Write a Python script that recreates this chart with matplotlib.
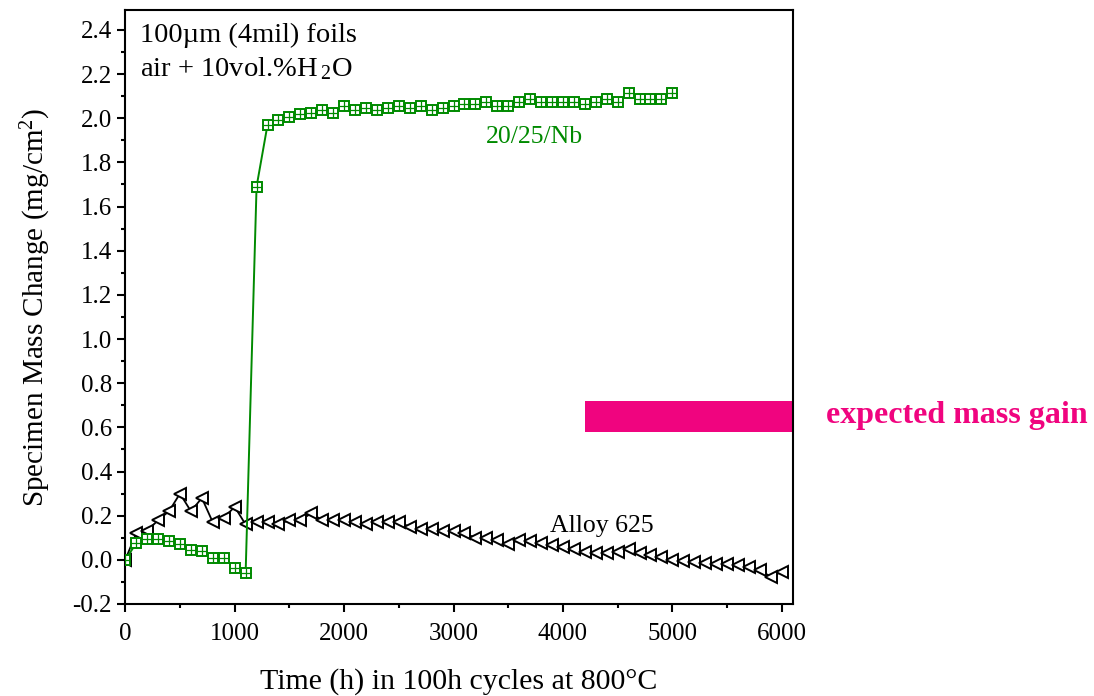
import numpy as np
import matplotlib
matplotlib.use('Agg')
import matplotlib.pyplot as plt
from matplotlib.ticker import MultipleLocator

plt.rcParams['font.family'] = ['Liberation Serif', 'DejaVu Serif']
plt.rcParams['mathtext.fontset'] = 'custom'
plt.rcParams['mathtext.rm'] = 'Liberation Serif'
plt.rcParams['mathtext.it'] = 'Liberation Serif:italic'

# Alloy 625, every 100 h from 0 to 6000 h
alloy_time = list(range(0, 6001, 100))
alloy_mass = [0.00, 0.12, 0.13, 0.18, 0.22, 0.30, 0.22, 0.28, 0.17, 0.19,
              0.24, 0.16, 0.17, 0.17, 0.16, 0.18, 0.18, 0.21, 0.18, 0.18,
              0.18, 0.17, 0.16, 0.17, 0.17, 0.17, 0.15, 0.14, 0.14, 0.13,
              0.13, 0.12, 0.10, 0.10, 0.09, 0.07, 0.09, 0.085, 0.075, 0.065,
              0.057, 0.048, 0.037, 0.030, 0.032, 0.037, 0.048, 0.030, 0.022, 0.011,
              0.000, -0.005, -0.008, -0.015, -0.019, -0.020, -0.024, -0.031, -0.046, -0.077,
              -0.054]

# 20/25/Nb, every 100 h from 0 to 5000 h
nb_time = list(range(0, 5001, 100))
nb_mass = [0.00, 0.075, 0.095, 0.095, 0.085, 0.07, 0.045, 0.04, 0.01, 0.01,
           -0.035, -0.06, 1.69, 1.97, 1.99, 2.005, 2.02, 2.025, 2.035, 2.025,
           2.055, 2.035, 2.045, 2.035, 2.045, 2.055, 2.045, 2.055, 2.035, 2.045,
           2.055, 2.065, 2.065, 2.072, 2.055, 2.055, 2.074, 2.085, 2.074, 2.074,
           2.074, 2.074, 2.064, 2.074, 2.085, 2.074, 2.115, 2.085, 2.085, 2.085,
           2.112]

# expected mass gain band
band_start = 4200
band_low, band_high = 0.58, 0.72

green = '#008a00'
magenta = '#f0047f'

fig = plt.figure(figsize=(10.94, 6.96), dpi=100)
ax = fig.add_axes([0.1145, 0.1322, 0.6101, 0.8534])

ax.plot(alloy_time, alloy_mass, color='black', lw=1.3, marker='<', ms=8.5,
        mfc='white', mec='black', mew=1.4, zorder=3)
ax.plot(nb_time, nb_mass, color=green, lw=1.4, marker='s', ms=6.5,
        mfc='white', mec=green, mew=1.4, zorder=4)
ax.plot(nb_time, nb_mass, ls='none', marker='+', ms=6.5, mec=green, mew=0.9, zorder=5)

ax.fill_between([band_start, 6100], band_low, band_high, color=magenta, lw=0, zorder=2)

ax.set_xlim(0, 6100)
ax.set_ylim(-0.2, 2.49)
ax.xaxis.set_major_locator(MultipleLocator(1000))
ax.xaxis.set_minor_locator(MultipleLocator(500))
ax.yaxis.set_major_locator(MultipleLocator(0.2))
ax.yaxis.set_minor_locator(MultipleLocator(0.1))
ax.yaxis.set_major_formatter(matplotlib.ticker.FormatStrFormatter('%.1f'))
ax.tick_params(which='major', direction='out', length=6, width=1.5, labelsize=18)
ax.tick_params(axis='x', which='major', pad=8)
ax.tick_params(which='minor', direction='out', length=3, width=1.5)
for s in ax.spines.values():
    s.set_linewidth(1.5)

ax.set_xlabel('Time (h) in 100h cycles at 800°C', fontsize=21.5, labelpad=16)
ax.set_ylabel('Specimen Mass Change (mg/cm$^2$)', fontsize=21, labelpad=14)

ax.text(0.022, 0.978, '100µm (4mil) foils\nair + 10vol.%H$\\,_2$O', transform=ax.transAxes,
        fontsize=20.5, va='top', ha='left', linespacing=1.35)
ax.text(3300, 1.915, '20/25/Nb', color=green, fontsize=18.5, va='center')
ax.text(3880, 0.155, 'Alloy 625', color='black', fontsize=18.5, va='center')

fig.text(0.755, 0.403, 'expected mass gain', color=magenta, fontsize=23,
         fontweight='bold', va='center', ha='left')

fig.savefig('out.png', dpi=100)
